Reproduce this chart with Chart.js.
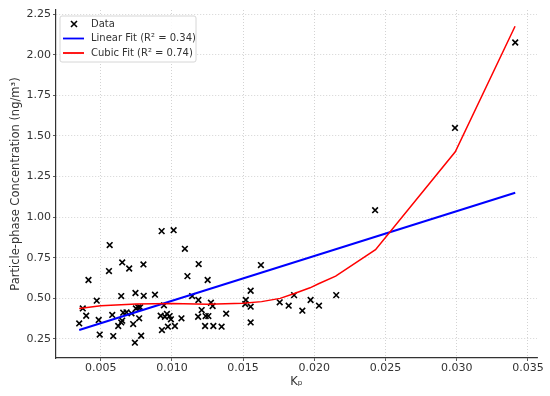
<!DOCTYPE html>
<html>
<head>
<meta charset="utf-8">
<script src="https://cdn.jsdelivr.net/npm/chart.js@4.4.1/dist/chart.umd.min.js"></script>
<style>
  html, body { margin: 0; padding: 0; background: #fff; }
  #wrap { width: 550px; height: 396px; }
</style>
</head>
<body>
<div id="wrap"><canvas id="chart" width="550" height="396"></canvas></div>
<script>
// measured points (Kp, concentration)
const kpValues = [
  0.00349, 0.00374, 0.00398, 0.00414, 0.00472, 0.00486, 0.00493, 0.00563, 0.00558, 0.00581,
  0.00588, 0.00623, 0.00644, 0.00651, 0.00644, 0.00651, 0.00658, 0.00681, 0.00700, 0.00716,
  0.00728, 0.00740, 0.00744, 0.00747, 0.00763, 0.00770, 0.00777, 0.00784, 0.00800, 0.00802,
  0.00881, 0.00928, 0.00930, 0.00921, 0.00944, 0.00951, 0.00965, 0.00984, 0.00972, 0.00993,
  0.01012, 0.01021, 0.01067, 0.01091, 0.01109, 0.01142, 0.01188, 0.01186, 0.01184, 0.01209,
  0.01237, 0.01251, 0.01256, 0.01233, 0.01274, 0.01286, 0.01291, 0.01349, 0.01381, 0.01519,
  0.01515, 0.01553, 0.01553, 0.01553, 0.01625, 0.01757, 0.01820, 0.01858, 0.01916, 0.01974,
  0.02033, 0.02154, 0.02427, 0.02988, 0.03411
];
const concValues = [
  0.346, 0.438, 0.393, 0.613, 0.486, 0.367, 0.277, 0.828, 0.668, 0.398,
  0.268, 0.330, 0.514, 0.721, 0.352, 0.363, 0.412, 0.414, 0.684, 0.408,
  0.342, 0.227, 0.533, 0.438, 0.445, 0.377, 0.445, 0.270, 0.709, 0.516,
  0.523, 0.914, 0.305, 0.393, 0.457, 0.387, 0.404, 0.391, 0.326, 0.371,
  0.920, 0.330, 0.377, 0.805, 0.637, 0.514, 0.711, 0.490, 0.387, 0.428,
  0.391, 0.613, 0.391, 0.330, 0.473, 0.453, 0.330, 0.326, 0.406, 0.490,
  0.465, 0.547, 0.449, 0.352, 0.705, 0.476, 0.455, 0.520, 0.424, 0.490,
  0.455, 0.520, 1.043, 1.549, 2.075
];

// fitted curves
const linearX = [0.00349, 0.03411];
const linearY = [0.305, 1.150];
const cubicX = [0.00349, 0.0050, 0.0075, 0.0100, 0.0125, 0.0150, 0.0163, 0.0176, 0.0186, 0.0197, 0.0203, 0.0215, 0.0243, 0.0299, 0.0341];
const cubicY = [0.438, 0.455, 0.465, 0.468, 0.464, 0.470, 0.480, 0.500, 0.530, 0.565, 0.590, 0.637, 0.800, 1.402, 2.175];

const xTicks = [0.005, 0.010, 0.015, 0.020, 0.025, 0.030, 0.035];
const yTicks = [0.25, 0.50, 0.75, 1.00, 1.25, 1.50, 1.75, 2.00, 2.25];

const legendLabels = ['Data', 'Linear Fit (R\u00b2 = 0.34)', 'Cubic Fit (R\u00b2 = 0.74)'];

const toXY = (xs, ys) => xs.map((x, i) => ({ x: x, y: ys[i] }));

const FONT = "'DejaVu Sans', sans-serif";
const TEXT = '#333333';

// legend drawn inside the plot, matplotlib style
const insideLegend = {
  id: 'insideLegend',
  afterDraw(chart) {
    const ctx = chart.ctx;
    const area = chart.chartArea;
    const x0 = area.left + 4, y0 = area.top + 6, w = 136, h = 46;
    ctx.save();
    ctx.beginPath();
    ctx.roundRect(x0, y0, w, h, 2);
    ctx.fillStyle = 'rgba(255,255,255,0.85)';
    ctx.fill();
    ctx.strokeStyle = '#d6d6d6';
    ctx.lineWidth = 1;
    ctx.stroke();
    ctx.font = '10px ' + FONT;
    ctx.fillStyle = TEXT;
    ctx.textBaseline = 'middle';
    const rows = [y0 + 8, y0 + 22.5, y0 + 37];
    // data marker
    ctx.strokeStyle = '#000';
    ctx.lineWidth = 1.6;
    ctx.beginPath();
    ctx.moveTo(x0 + 11, rows[0] - 3); ctx.lineTo(x0 + 17, rows[0] + 3);
    ctx.moveTo(x0 + 17, rows[0] - 3); ctx.lineTo(x0 + 11, rows[0] + 3);
    ctx.stroke();
    const lineCols = ['#0000ff', '#ff0000'];
    for (let i = 0; i < 2; i++) {
      ctx.strokeStyle = lineCols[i];
      ctx.lineWidth = 1.8;
      ctx.beginPath();
      ctx.moveTo(x0 + 3, rows[i + 1]);
      ctx.lineTo(x0 + 24, rows[i + 1]);
      ctx.stroke();
    }
    legendLabels.forEach((t, i) => ctx.fillText(t, x0 + 31, rows[i]));
    ctx.restore();
  }
};

const gridStyle = {
  color: 'rgba(0,0,0,0.22)',
  lineWidth: 0.8,
  drawTicks: true,
  tickLength: 3,
  tickColor: '#333',
  tickBorderDash: []
};
const borderStyle = { display: true, color: '#333', width: 1.2, dash: [1, 2] };

const ctx = document.getElementById('chart').getContext('2d');
new Chart(ctx, {
  type: 'scatter',
  data: {
    datasets: [
      {
        label: legendLabels[2],
        type: 'line',
        data: toXY(cubicX, cubicY),
        borderColor: '#ff0000',
        borderWidth: 1.5,
        pointRadius: 0,
        fill: false,
        tension: 0,
        order: 0
      },
      {
        label: legendLabels[1],
        type: 'line',
        data: toXY(linearX, linearY),
        borderColor: '#0000ff',
        borderWidth: 2,
        pointRadius: 0,
        fill: false,
        order: 1
      },
      {
        label: legendLabels[0],
        data: toXY(kpValues, concValues),
        pointStyle: 'crossRot',
        pointRadius: 4,
        borderColor: '#000',
        borderWidth: 1.6,
        order: 2
      }
    ]
  },
  options: {
    responsive: false,
    animation: false,
    events: [],
    layout: { padding: { left: 0, right: 13, top: 10, bottom: 0 } },
    plugins: {
      legend: { display: false },
      tooltip: { enabled: false }
    },
    scales: {
      x: {
        type: 'linear',
        min: 0.00186,
        max: 0.03564,
        afterBuildTicks: (s) => { s.ticks = xTicks.map(v => ({ value: v })); },
        afterFit: (s) => { s.height = 38; },
        border: borderStyle,
        grid: gridStyle,
        ticks: {
          padding: 1,
          color: TEXT,
          font: { family: FONT, size: 11 },
          maxRotation: 0,
          callback: (v) => v.toFixed(3)
        },
        title: {
          display: true,
          text: 'K\u209a',
          color: TEXT,
          font: { family: FONT, size: 11.5 },
          padding: { top: 0, bottom: 7.5 }
        }
      },
      y: {
        type: 'linear',
        min: 0.133,
        max: 2.275,
        afterBuildTicks: (s) => { s.ticks = yTicks.map(v => ({ value: v })); },
        afterFit: (s) => { s.width = 56; },
        border: borderStyle,
        grid: gridStyle,
        ticks: {
          padding: 2,
          color: TEXT,
          font: { family: FONT, size: 11 },
          callback: (v) => v.toFixed(2)
        },
        title: {
          display: true,
          text: 'Particle-phase Concentration (ng/m\u00b3)',
          color: TEXT,
          font: { family: FONT, size: 11.5 },
          padding: { top: 9, bottom: 0 }
        }
      }
    }
  },
  plugins: [insideLegend]
});
</script>
</body>
</html>
